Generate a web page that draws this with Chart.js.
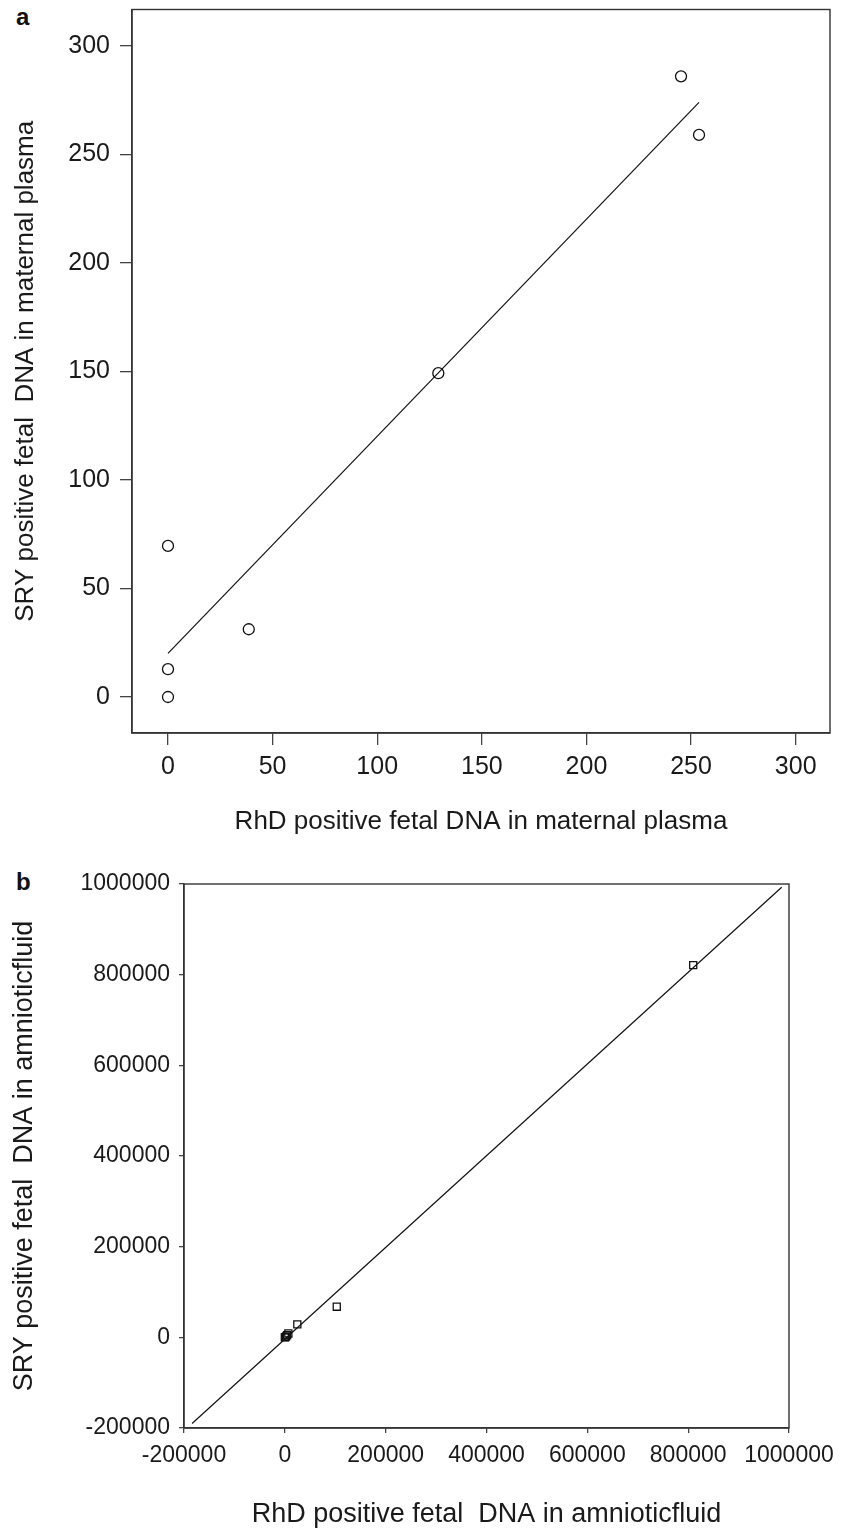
<!DOCTYPE html>
<html>
<head>
<meta charset="utf-8">
<script src="https://cdn.jsdelivr.net/npm/chart.js@4.4.0/dist/chart.umd.min.js"></script>
<style>
  html, body { margin: 0; padding: 0; background: #fff; }
  body { width: 854px; height: 1528px; position: relative; overflow: hidden; font-family: "Liberation Sans", Arial, sans-serif; }
  .painel { position: absolute; left: 0; width: 854px; }
  .letra { position: absolute; left: 16px; font-weight: bold; font-size: 24px; line-height: 24px; color: #111; }
</style>
</head>
<body>
<div class="letra" style="top:5px">a</div>
<div class="letra" style="top:870px">b</div>
<div class="painel" style="top:0;height:860px"><canvas id="graficoA"></canvas></div>
<div class="painel" style="top:860px;height:668px"><canvas id="graficoB"></canvas></div>

<script>
// painel a: plasma materno
const rhdPlasma = [0, 0, 0, 38.6, 129.2, 245.2, 253.8];
const sryPlasma = [0, 12.8, 69.6, 31.2, 149.2, 286.0, 259.0];
const retaPlasmaX = [0, 253.8];
const retaPlasmaY = [20.1, 274];
const ticksPlasma = [0, 50, 100, 150, 200, 250, 300];

// painel b: liquido amniotico
const rhdAmnio = [0, 1000, 2500, 4500, 7000, 24800, 103000, 810000];
const sryAmnio = [0, 500, 2000, 5000, 8500, 28700, 67500, 821000];
const retaAmnioX = [-184000, 985500];
const retaAmnioY = [-190000, 992700];
const ticksAmnio = [-200000, 0, 200000, 400000, 600000, 800000, 1000000];

const fonte = '"Liberation Sans", Arial, sans-serif';
const corTexto = '#1a1a1a';

const moldura = {
  id: 'moldura',
  afterDraw(chart) {
    const { ctx, chartArea: a } = chart;
    ctx.save();
    ctx.strokeStyle = '#333';
    ctx.lineWidth = 1.4;
    ctx.strokeRect(a.left, a.top, a.right - a.left, a.bottom - a.top);
    ctx.restore();
  }
};

function pontos(xs, ys) {
  return xs.map((x, i) => ({ x: x, y: ys[i] }));
}

function eixo(opts) {
  return {
    type: 'linear',
    min: opts.min,
    max: opts.max,
    afterBuildTicks: s => { s.ticks = opts.ticks.map(v => ({ value: v })); },
    afterFit: s => {
      // tamanho fixo do eixo, sem folga extra para os rótulos
      if (opts.altura) s.height = opts.altura;
      if (opts.largura) s.width = opts.largura;
      s.paddingTop = 0;
      s.paddingBottom = 0;
      s.paddingLeft = 0;
      s.paddingRight = 0;
    },
    grid: { drawOnChartArea: false, drawTicks: true, tickLength: opts.tick, color: '#444', tickColor: '#444', lineWidth: 1.3 },
    border: { display: true, color: '#333', width: 1.4 },
    ticks: {
      font: { size: opts.fonteTick, family: fonte },
      color: corTexto,
      padding: opts.pad,
      autoSkip: false,
      maxRotation: 0,
      callback: v => String(v)
    },
    title: {
      display: true,
      text: opts.titulo,
      color: corTexto,
      font: { size: opts.fonteTitulo, family: fonte, lineHeight: 1 },
      padding: opts.padTitulo
    }
  };
}

function criarGrafico(id, dados, reta, estilo, raio, escalas, padding) {
  const ctx = document.getElementById(id).getContext('2d');
  return new Chart(ctx, {
    type: 'scatter',
    data: {
      datasets: [{
        data: dados,
        pointStyle: estilo,
        pointRadius: raio,
        pointBorderWidth: 1.3,
        pointBorderColor: '#111',
        pointBackgroundColor: 'rgba(255,255,255,0)',
        pointHoverRadius: raio
      }, {
        type: 'line',
        data: reta,
        borderColor: '#111',
        borderWidth: 1.2,
        pointRadius: 0,
        fill: false
      }]
    },
    options: {
      responsive: true,
      maintainAspectRatio: false,
      animation: false,
      layout: { padding: padding },
      plugins: { legend: { display: false }, tooltip: { enabled: false } },
      scales: escalas
    },
    plugins: [moldura]
  });
}

criarGrafico('graficoA', pontos(rhdPlasma, sryPlasma), pontos(retaPlasmaX, retaPlasmaY), 'circle', 5.5, {
  x: eixo({ min: -17.2, max: 316.4, ticks: ticksPlasma, altura: 127, tick: 12, fonteTick: 25, pad: 7.5,
            titulo: 'RhD positive fetal DNA in maternal plasma', fonteTitulo: 26, padTitulo: { top: 0, bottom: 25 } }),
  y: eixo({ min: -16.6, max: 316.8, ticks: ticksPlasma, largura: 132, tick: 12, fonteTick: 25, pad: 10,
            titulo: 'SRY positive fetal  DNA in maternal plasma', fonteTitulo: 26, padTitulo: { top: 13, bottom: 0 } })
}, { left: 0, right: 24, top: 9.5, bottom: 0 });

criarGrafico('graficoB', pontos(rhdAmnio, sryAmnio), pontos(retaAmnioX, retaAmnioY), 'rect', 5, {
  x: eixo({ min: -200000, max: 1000000, ticks: ticksAmnio, altura: 100, tick: 5, fonteTick: 23, pad: 9.2,
            titulo: 'RhD positive fetal  DNA in amnioticfluid', fonteTitulo: 27, padTitulo: { top: 0, bottom: 0 } }),
  y: eixo({ min: -200000, max: 1000000, ticks: ticksAmnio, largura: 184, tick: 5, fonteTick: 23, pad: 9,
            titulo: 'SRY positive fetal  DNA in amnioticfluid', fonteTitulo: 27, padTitulo: { top: 11.5, bottom: 0 } })
}, { left: 0, right: 65, top: 24, bottom: 0 });
</script>
</body>
</html>
